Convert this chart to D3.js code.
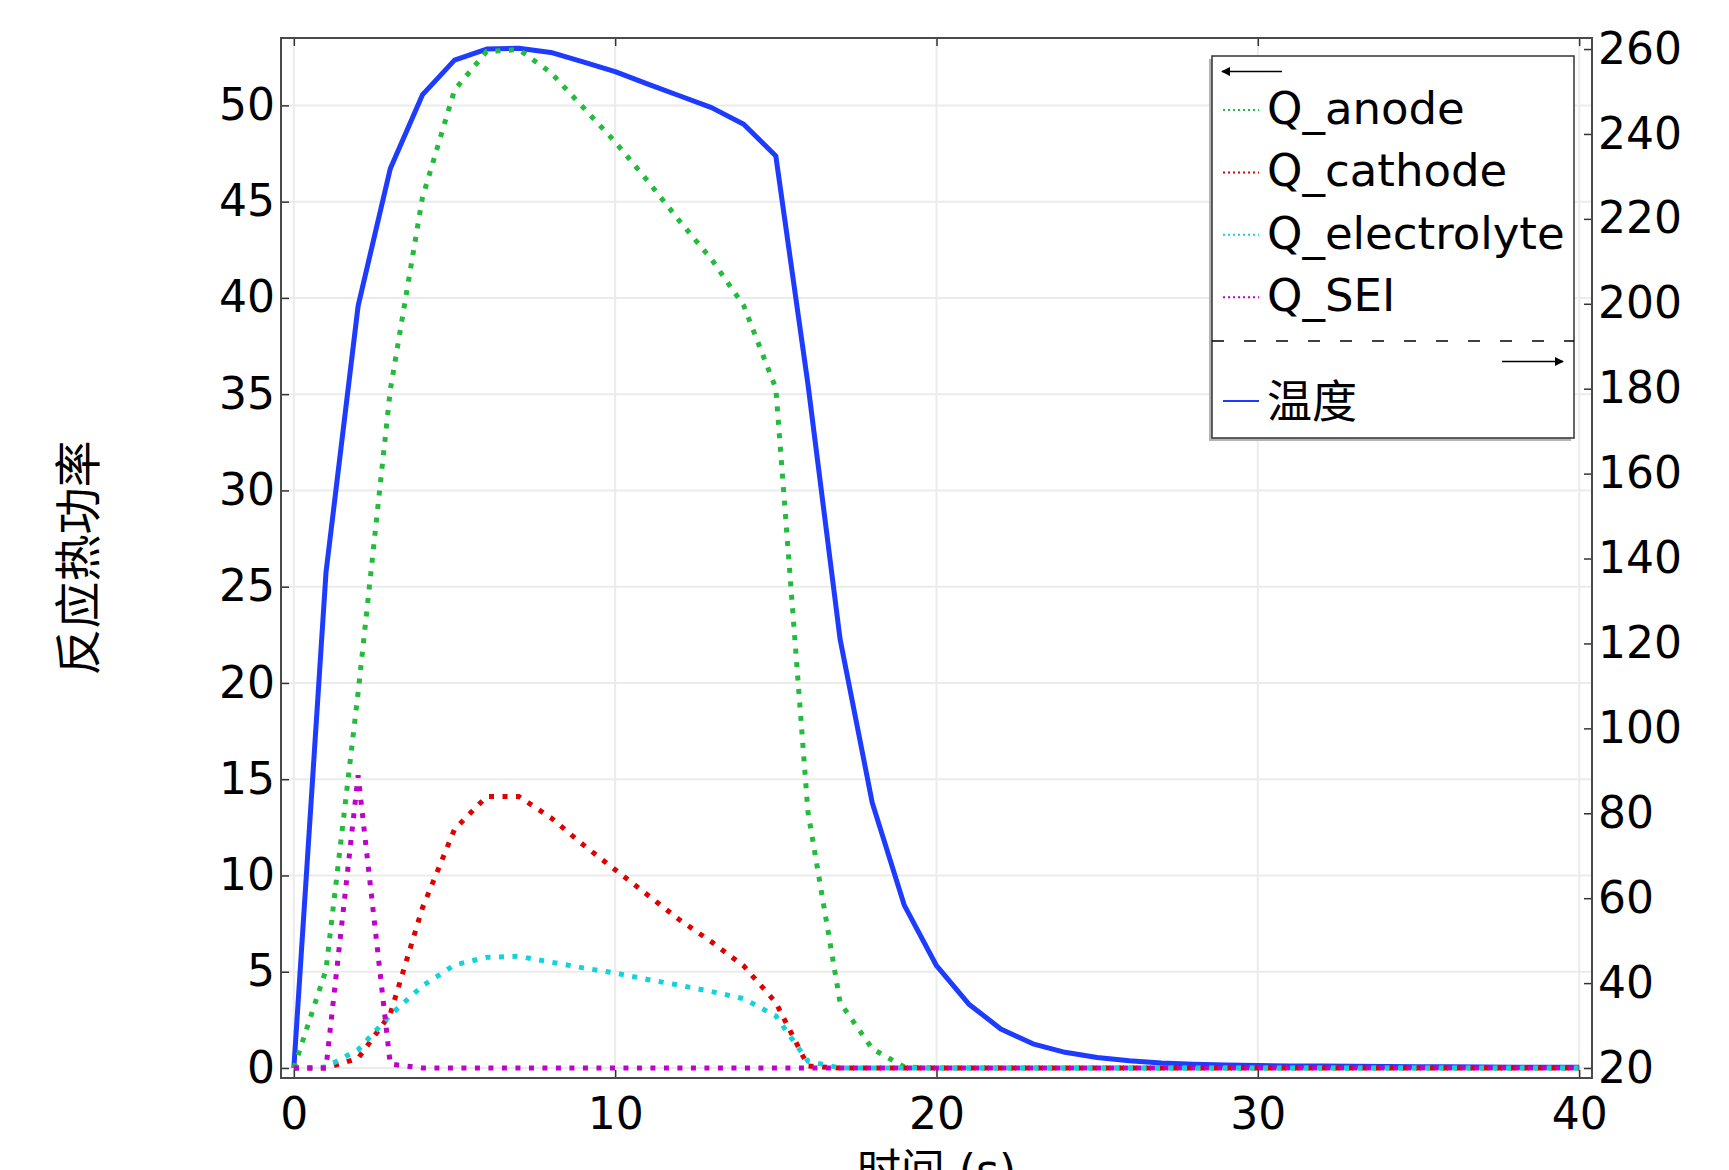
<!DOCTYPE html>
<html>
<head>
<meta charset="utf-8">
<script src="https://cdn.jsdelivr.net/npm/d3@7"></script>
<style>
	body { margin: 0; background: #fff; }
	text { font-family: "DejaVu Sans", "Noto Sans CJK SC", sans-serif; fill: #000; }
</style>
</head>
<body>
<div id="chart"></div>
<script>

const time = [0,1,2,3,4,5,6,7,8,9,10,11,12,13,14,15,16,17,18,19,20,21,22,23,24,25,26,27,28,29,30,31,32,33,34,35,36,37,38,39,40];

const temperature = [20,136.7,199.5,231.8,249.2,257.4,260.0,260.2,259.2,257.0,254.7,251.8,249.0,246.2,242.3,234.8,181,121,82.5,58.3,44.1,35.1,29.2,25.7,23.7,22.5,21.7,21.2,20.9,20.7,20.6,20.5,20.45,20.4,20.35,20.3,20.3,20.25,20.2,20.2,20.2];

const qAnode = [0,5.1,19.5,35.2,45.2,50.8,52.8,52.9,51.7,49.9,48.1,46.1,44.0,42.0,39.6,35.3,13.3,3.4,1.0,0.05,0,0,0,0,0,0,0,0,0,0,0,0,0,0,0,0,0,0,0,0,0];

const qCathode = [0,0,0.5,2.8,8.3,12.4,14.1,14.1,13.0,11.6,10.3,9.0,7.7,6.55,5.3,3.4,0.1,0,0,0,0,0,0,0,0,0,0,0,0,0,0,0,0,0,0,0,0,0,0,0,0];

const qElectrolyte = [0,0.05,0.95,2.75,4.26,5.35,5.75,5.8,5.5,5.2,4.93,4.6,4.3,3.97,3.6,2.7,0.35,0,0,0,0,0,0,0,0,0,0,0,0,0,0,0,0,0,0,0,0,0,0,0,0];

const qSEI = [0,0,15.2,0.2,0,0,0,0,0,0,0,0,0,0,0,0,0,0,0,0,0,0,0,0,0,0,0,0,0,0,0,0,0,0,0,0,0,0,0,0,0];

const seriesNames = ['Q_anode', 'Q_cathode', 'Q_electrolyte', 'Q_SEI'];
const tempName = '温度';

const xTicks = [0,10,20,30,40];
const leftTicks = [0,5,10,15,20,25,30,35,40,45,50];
const rightTicks = [20,40,60,80,100,120,140,160,180,200,220,240,260];

const xTitle = '时间 (s)';
const yTitle = '反应热功率';

const width = 1729;
const height = 1170;

const margin = {top:38, right:137, bottom:92, left:281}

const colors = ['#22bb3c', '#e00000', '#12d2dc', '#c000cc'];
const tempColor = '#1e3cff';

let xScale = d3.scaleLinear()
.domain([-0.4, 40.4])
.range([margin.left, width - margin.right])

let yScale = d3.scaleLinear()
.domain([-0.52, 53.5])
.range([height - margin.bottom, margin.top])

let yScaleRight = d3.scaleLinear()
.domain([17.65, 262.6])
.range([height - margin.bottom, margin.top])

const svg = d3.select('#chart').append('svg')
.attr('width', width)
.attr('height', height)

// grid
svg.append('g')
.selectAll('line')
.data(xTicks)
.enter()
.append('line')
.attr('x1', d => xScale(d))
.attr('x2', d => xScale(d))
.attr('y1', margin.top)
.attr('y2', height - margin.bottom)
.style('stroke', '#ebebeb')
.style('stroke-width', 2)

svg.append('g')
.selectAll('line')
.data(leftTicks)
.enter()
.append('line')
.attr('x1', margin.left)
.attr('x2', width - margin.right)
.attr('y1', d => yScale(d))
.attr('y2', d => yScale(d))
.style('stroke', '#ebebeb')
.style('stroke-width', 2)

// temperature (right axis)
let tempLine = d3.line()
.x((d, i) => xScale(time[i]))
.y(d => yScaleRight(d))

svg.append('path')
.datum(temperature)
.attr('d', tempLine)
.style('fill', 'none')
.style('stroke', tempColor)
.style('stroke-width', 5)
.style('stroke-linejoin', 'round')

// heat sources (left axis)
let qLine = d3.line()
.x((d, i) => xScale(time[i]))
.y(d => yScale(d))

const qSeries = [qAnode, qCathode, qElectrolyte, qSEI];

svg.append('g')
.selectAll('path')
.data(qSeries)
.enter()
.append('path')
.attr('d', d => qLine(d))
.style('fill', 'none')
.style('stroke', (d, i) => colors[i])
.style('stroke-width', 5)
.style('stroke-dasharray', '5,8.5')

// axes
let xAxis = (g) => {
	return g
	.attr('transform', `translate(0, ${height - margin.bottom})`)
	.call(d3.axisBottom(xScale).tickValues(xTicks).tickSizeInner(-8).tickSizeOuter(0).tickPadding(20))
}

let xAxisTop = (g) => {
	return g
	.attr('transform', `translate(0, ${margin.top})`)
	.call(d3.axisTop(xScale).tickValues(xTicks).tickSizeInner(-8).tickSizeOuter(0).tickFormat(''))
}

let yAxis = (g) => {
	return g
	.attr('transform', `translate(${margin.left},0)`)
	.call(d3.axisLeft(yScale).tickValues(leftTicks).tickSizeInner(-8).tickSizeOuter(0).tickPadding(6))
}

let yAxisRight = (g) => {
	return g
	.attr('transform', `translate(${width - margin.right},0)`)
	.call(d3.axisRight(yScaleRight).tickValues(rightTicks).tickSizeInner(-8).tickSizeOuter(0).tickPadding(6))
}

svg.append('g').call(xAxis)
svg.append('g').call(xAxisTop)
svg.append('g').call(yAxis)
svg.append('g').call(yAxisRight)

svg.selectAll('.domain').remove()
svg.selectAll('.tick line').style('stroke', '#333').style('stroke-width', 1.5)
svg.selectAll('.tick text')
.style('font-size', '44px')
.style('font-family', '"DejaVu Sans", sans-serif')
.style('fill', '#000')

// frame
svg.append('rect')
.attr('x', margin.left)
.attr('y', margin.top)
.attr('width', width - margin.left - margin.right)
.attr('height', height - margin.top - margin.bottom)
.style('fill', 'none')
.style('stroke', '#4a4a4a')
.style('stroke-width', 2)

// titles
svg.append('text')
.attr('x', (margin.left + width - margin.right) / 2)
.attr('y', 1186)
.attr('text-anchor', 'middle')
.style('font-size', '44px')
.text(xTitle)

svg.append('text')
.attr('transform', `translate(95, ${(margin.top + height - margin.bottom) / 2}) rotate(-90)`)
.attr('text-anchor', 'middle')
.style('font-size', '47px')
.text(yTitle)

// legend
const legend = svg.append('g')
const lx = 1212, ly = 56, lw = 362, lh = 382;

legend.append('rect')
.attr('x', lx - 3)
.attr('y', ly + 3)
.attr('width', lw)
.attr('height', lh)
.style('fill', '#b4b4b4')

legend.append('rect')
.attr('x', lx)
.attr('y', ly)
.attr('width', lw)
.attr('height', lh)
.style('fill', '#fff')
.style('stroke', '#333')
.style('stroke-width', 1.5)

svg.append('defs')
.append('marker')
.attr('id', 'arrow')
.attr('viewBox', '0 0 10 10')
.attr('refX', 9)
.attr('refY', 5)
.attr('markerWidth', 9)
.attr('markerHeight', 9)
.attr('markerUnits', 'userSpaceOnUse')
.attr('orient', 'auto')
.append('path')
.attr('d', 'M0,0L10,5L0,10Z')
.style('fill', '#000')

legend.append('line')
.attr('x1', 1282)
.attr('x2', 1222)
.attr('y1', 71.5)
.attr('y2', 71.5)
.attr('marker-end', 'url(#arrow)')
.style('stroke', '#000')
.style('stroke-width', 1.5)

let rows = legend.selectAll('.row')
.data(seriesNames)
.enter()
.append('g')
.attr('class', 'row')
.attr('transform', (d, i) => `translate(0, ${110 + i * 62.4})`)

rows.append('line')
.attr('x1', 1223)
.attr('x2', 1259)
.style('stroke', (d, i) => colors[i])
.style('stroke-width', 2)
.style('stroke-dasharray', '2,3')

rows.append('text')
.attr('x', 1267)
.attr('y', 14)
.style('font-size', '45px')
.text(d => d)

legend.append('line')
.attr('x1', lx)
.attr('x2', lx + lw)
.attr('y1', 341)
.attr('y2', 341)
.style('stroke', '#000')
.style('stroke-width', 1.5)
.style('stroke-dasharray', '12,20')

legend.append('line')
.attr('x1', 1502)
.attr('x2', 1563)
.attr('y1', 361.5)
.attr('y2', 361.5)
.attr('marker-end', 'url(#arrow)')
.style('stroke', '#000')
.style('stroke-width', 1.5)

legend.append('line')
.attr('x1', 1223)
.attr('x2', 1259)
.attr('y1', 401)
.attr('y2', 401)
.style('stroke', tempColor)
.style('stroke-width', 2)

legend.append('text')
.attr('x', 1267)
.attr('y', 418)
.style('font-size', '45px')
.text(tempName)

</script>
</body>
</html>
